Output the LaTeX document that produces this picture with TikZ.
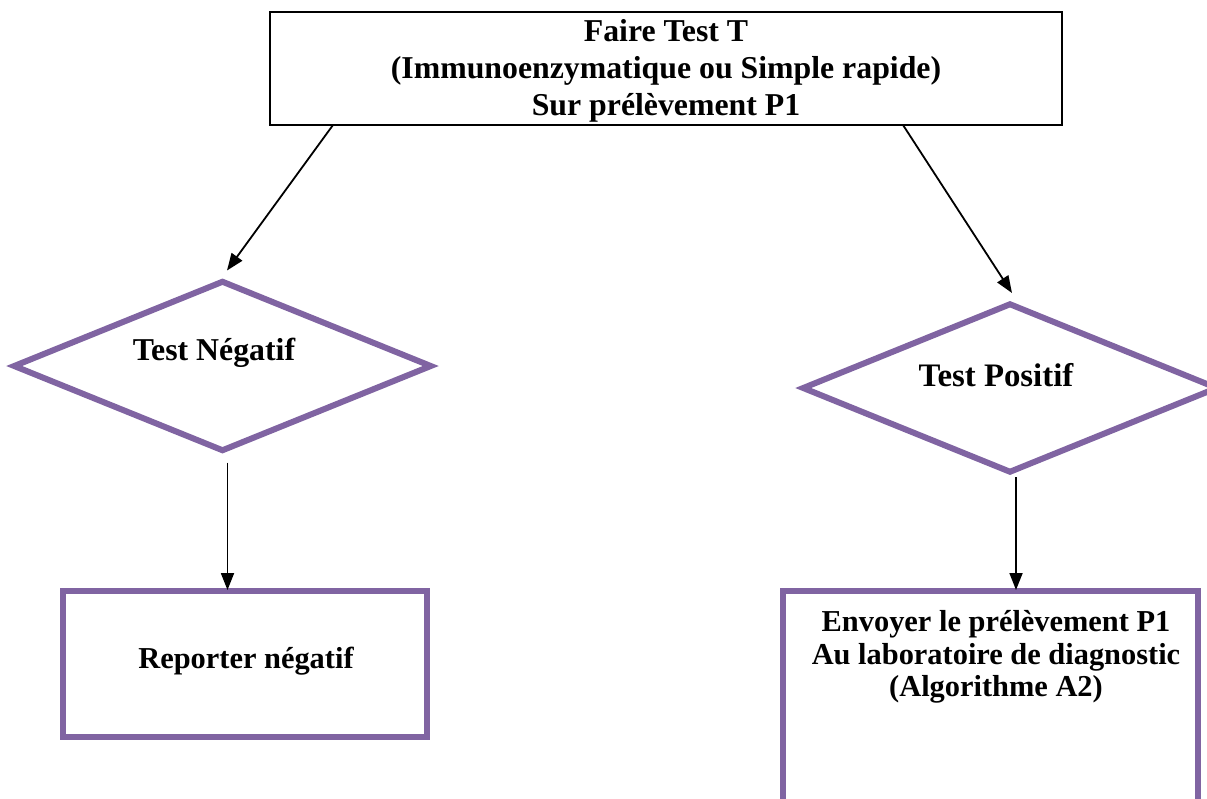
\documentclass[tikz,border=0pt]{standalone}
\usepackage{fontspec}
\setmainfont{Liberation Serif}
\usetikzlibrary{shapes.geometric,arrows.meta,calc}
\definecolor{vio}{HTML}{8064A2}
\begin{document}
\begin{tikzpicture}[x=1pt,y=-1pt,
 topbox/.style={draw=black,line width=2pt,inner sep=0pt},
 toptext/.style={inner sep=0pt,align=center,font=\bfseries\fontsize{31.8}{37}\selectfont},
 dec/.style={draw=vio,line width=6pt,diamond,inner sep=0pt},
 resbox/.style={draw=vio,line width=6pt,rectangle,inner sep=0pt},
 lbl/.style={inner sep=0pt,align=center,font=\bfseries\fontsize{31.8}{34}\selectfont},
 lblsm/.style={inner sep=0pt,align=center,font=\bfseries\fontsize{30.4}{32.5}\selectfont},
 arr/.style={-{Triangle[length=17pt,width=13pt]},line width=1.8pt}]
\useasboundingbox (0,0) rectangle (1207,798);
\begin{scope}
\clip (0,0) rectangle (1207,798);
\node[topbox,minimum width=792pt,minimum height=113pt] (top) at (666,68.5) {};
\node[toptext] (topt) at (666,71) {Faire Test T\\(Immunoenzymatique ou Simple rapide)\\Sur prélèvement P1};
\node[dec,minimum width=419pt,minimum height=171pt] (neg) at (222.5,366) {};
\node[lbl] (negt) at (214,353) {Test Négatif};
\node[dec,minimum width=416pt,minimum height=170pt] (pos) at (1010,388) {};
\node[lbl,font=\bfseries\fontsize{32.8}{34}\selectfont] (post) at (996,375) {Test Positif};
\node[resbox,minimum width=364pt,minimum height=146pt] (rep) at (245,664) {};
\node[lblsm] (rept) at (246,661) {Reporter négatif};
\node[resbox,minimum width=415pt,minimum height=219pt] (env) at (990.5,700.5) {};
\node[lblsm] (envt) at (996,657) {Envoyer le prélèvement P1\\Au laboratoire de diagnostic\\(Algorithme A2)};
\draw[arr] ([xshift=64pt,yshift=1pt]top.south west) -- ([xshift=4.5pt,yshift=7pt]neg.north);
\draw[arr] ([xshift=634pt,yshift=1pt]top.south west) -- ([xshift=2pt,yshift=7pt]pos.north);
\draw[arr] ([xshift=5pt,yshift=-8pt]neg.south) -- ([xshift=-17.5pt,yshift=-2pt]rep.north);
\draw[arr] ([xshift=6pt,yshift=-1pt]pos.south) -- ([xshift=25.5pt,yshift=-2pt]env.north);
\end{scope}
\end{tikzpicture}
\end{document}
